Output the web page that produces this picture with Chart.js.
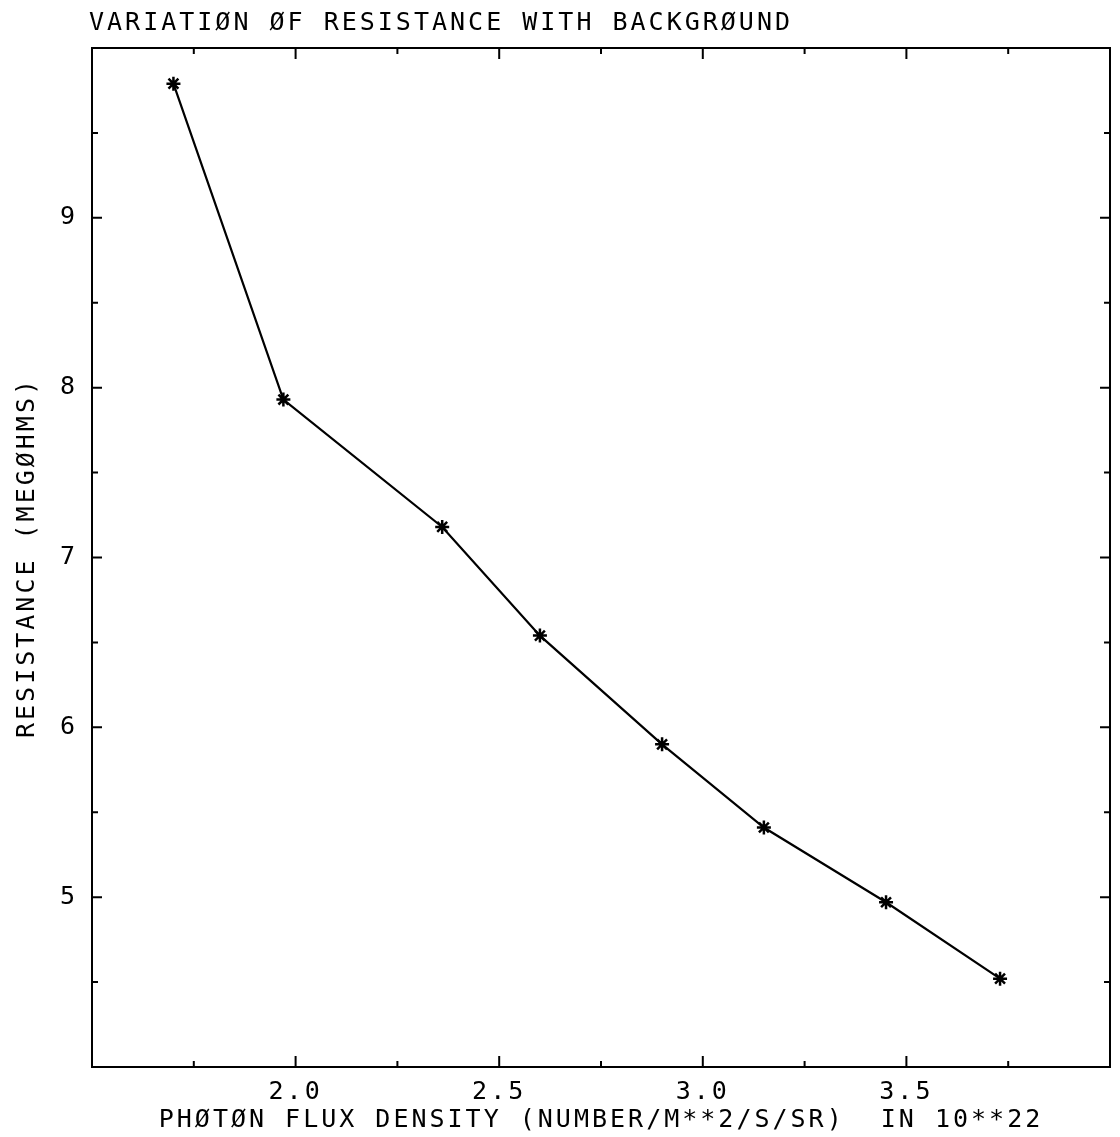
<!DOCTYPE html>
<html><head><meta charset="utf-8">
<script src="https://cdn.jsdelivr.net/npm/chart.js@4.4.1/dist/chart.umd.min.js"></script>
<style>html,body{margin:0;padding:0;background:#fff;}#wrap{width:1120px;height:1137px;}</style>
</head><body><div id="wrap"><canvas id="c" width="1120" height="1137"></canvas></div>
<script>
const photonFlux = [1.70, 1.97, 2.36, 2.60, 2.90, 3.15, 3.45, 3.73];
const resistance = [9.79, 7.93, 7.18, 6.54, 5.90, 5.41, 4.97, 4.52];
const xTickLabels = ['2.0', '2.5', '3.0', '3.5'];
const yTickLabels = ['5', '6', '7', '8', '9'];
const chartTitle = 'VARIATIØN ØF RESISTANCE WITH BACKGRØUND';
const xTitle = 'PHØTØN FLUX DENSITY (NUMBER/M**2/S/SR)  IN 10**22';
const yTitle = 'RESISTANCE (MEGØHMS)';

const FONT = "'DejaVu Sans Mono', monospace";
const points = photonFlux.map((v, i) => ({x: v, y: resistance[i]}));

const framePlugin = {
  id: 'frame',
  beforeDraw(chart) { chart.ctx.letterSpacing = '3px'; },
  afterDraw(chart) {
    const {ctx, chartArea: a, scales: {x, y}} = chart;
    ctx.save();
    ctx.strokeStyle = '#000';
    ctx.lineWidth = 2;
    ctx.strokeRect(a.left, a.top, a.right - a.left, a.bottom - a.top);
    ctx.beginPath();
    x.ticks.forEach(t => {
      if (t.value <= x.min + 1e-9 || t.value >= x.max - 1e-9) return;
      const px = x.getPixelForValue(t.value);
      const major = Math.abs(t.value * 2 - Math.round(t.value * 2)) < 1e-6;
      const len = major ? 11 : 6;
      ctx.moveTo(px, a.bottom); ctx.lineTo(px, a.bottom - len);
      ctx.moveTo(px, a.top); ctx.lineTo(px, a.top + len);
    });
    y.ticks.forEach(t => {
      if (t.value <= y.min + 1e-9 || t.value >= y.max - 1e-9) return;
      const py = y.getPixelForValue(t.value);
      const major = Math.abs(t.value - Math.round(t.value)) < 1e-6;
      const len = major ? 10 : 6;
      ctx.moveTo(a.left, py); ctx.lineTo(a.left + len, py);
      ctx.moveTo(a.right, py); ctx.lineTo(a.right - len, py);
    });
    ctx.stroke();
    ctx.fillStyle = '#000';
    ctx.font = '25px ' + FONT;
    ctx.letterSpacing = '3px';
    ctx.textAlign = 'left';
    ctx.textBaseline = 'middle';
    ctx.fillText(chartTitle, 89, 23);
    ctx.restore();
  }
};

new Chart(document.getElementById('c'), {
  type: 'line',
  data: {
    datasets: [{
      data: points,
      borderColor: '#000',
      borderWidth: 2.2,
      backgroundColor: '#000',
      pointStyle: 'star',
      pointRadius: 7,
      pointBorderWidth: 2.5,
      pointBorderColor: '#000',
      tension: 0,
      fill: false
    }]
  },
  options: {
    responsive: false,
    animation: false,
    devicePixelRatio: 1,
    layout: {padding: {top: 48, right: 7, bottom: 0, left: 0}},
    plugins: {legend: {display: false}, tooltip: {enabled: false}, title: {display: false}},
    scales: {
      x: {
        type: 'linear',
        min: 1.5, max: 4.0,
        afterFit(s) { s.height = 70; },
        border: {display: true, color: '#000', width: 2},
        grid: {display: true, drawOnChartArea: false, drawTicks: false},
        ticks: {
          stepSize: 0.25, autoSkip: false, maxRotation: 0, minRotation: 0,
          padding: 10, color: '#000', font: {family: FONT, size: 25},
          callback(v) {
            const s = Number(v).toFixed(1);
            return xTickLabels.includes(s) && Math.abs(v * 2 - Math.round(v * 2)) < 1e-6 ? s : '';
          }
        },
        title: {display: true, text: xTitle, color: '#000', font: {family: FONT, size: 25}, padding: {top: 0, bottom: 2}}
      },
      y: {
        type: 'linear',
        min: 4, max: 10,
        afterFit(s) { s.width = 92; },
        border: {display: true, color: '#000', width: 2},
        grid: {display: true, drawOnChartArea: false, drawTicks: false},
        ticks: {
          stepSize: 0.5, autoSkip: false,
          padding: 14, color: '#000', font: {family: FONT, size: 25},
          callback(v) {
            const s = String(Math.round(v));
            return Math.abs(v - Math.round(v)) < 1e-6 && yTickLabels.includes(s) ? s : '';
          }
        },
        title: {display: true, text: yTitle, color: '#000', font: {family: FONT, size: 25}, padding: {top: 12, bottom: 0}}
      }
    }
  },
  plugins: [framePlugin]
});
</script>
</body></html>
